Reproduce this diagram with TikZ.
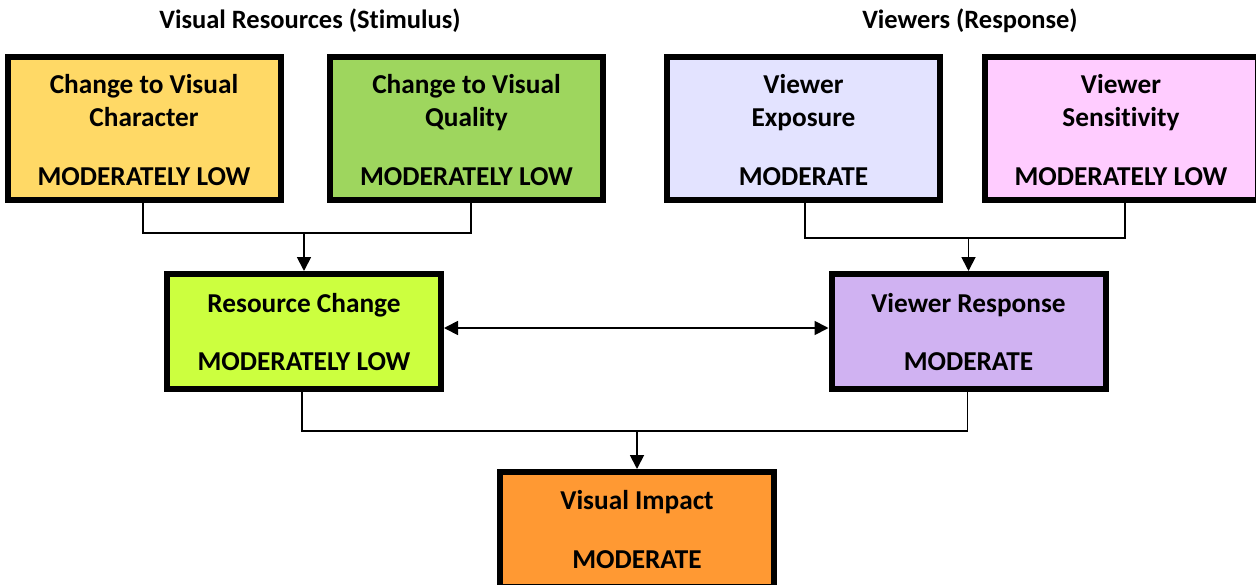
\documentclass[tikz,border=0pt]{standalone}
\usepackage{fontspec}
\setmainfont{Carlito}[Ligatures={NoCommon}]
\usetikzlibrary{arrows.meta}
\definecolor{cYellow}{HTML}{FFD966}
\definecolor{cGreen}{HTML}{9ED65E}
\definecolor{cLav}{HTML}{E3E3FF}
\definecolor{cPink}{HTML}{FFCCFF}
\definecolor{cLime}{HTML}{CCFF3F}
\definecolor{cPurple}{HTML}{D0B2F2}
\definecolor{cOrange}{HTML}{FF9933}
\tikzset{
  box/.style={draw=black, line width=6pt, rectangle, inner sep=0pt},
  bigbox/.style={box, minimum width=273pt, minimum height=143pt},
  midbox/.style={box, minimum width=274pt, minimum height=115pt},
  txt/.style={anchor=base, inner sep=0pt, font=\fontsize{27.3}{32}\selectfont\bfseries},
  head/.style={anchor=base, inner sep=0pt, font=\fontsize{26.5}{31}\selectfont\bfseries},
  conn/.style={line width=1.8pt, draw=black},
  arr/.style={conn, -{Triangle[length=14pt, width=14pt]}},
  arrtwo/.style={conn, {Triangle[length=14pt, width=14pt]}-{Triangle[length=14pt, width=14pt]}}
}
\begin{document}
\begin{tikzpicture}[x=1pt, y=-1pt]
\clip (0,0) rectangle (1256,584);
\fill[white] (0,0) rectangle (1256,584);

% headers
\node[head] (h1) at (310,28) {Visual Resources (Stimulus)};
\node[head] (h2) at (970,28) {Viewers (Response)};

% boxes
\node[bigbox, fill=cYellow] (b1) at (144,128.5) {};
\node[bigbox, fill=cGreen] (b2) at (466.5,128.5) {};
\node[bigbox, fill=cLav] (b3) at (803.5,128.5) {};
\node[bigbox, fill=cPink] (b4) at (1121,128.5) {};
\node[midbox, fill=cLime] (b5) at (304,331.5) {};
\node[midbox, fill=cPurple] (b6) at (968.5,331.5) {};
\node[midbox, fill=cOrange] (b7) at (637,529.5) {};

% texts
\node[txt] (t1a) at (144,93) {Change to Visual};
\node[txt] (t1b) at (144,126) {Character};
\node[txt] (t1c) at (144,185) {MODERATELY LOW};
\node[txt] (t2a) at (466.5,93) {Change to Visual};
\node[txt] (t2b) at (466.5,126) {Quality};
\node[txt] (t2c) at (466.5,185) {MODERATELY LOW};
\node[txt] (t3a) at (803.5,93) {Viewer};
\node[txt] (t3b) at (803.5,126) {Exposure};
\node[txt] (t3c) at (803.5,185) {MODERATE};
\node[txt] (t4a) at (1121,93) {Viewer};
\node[txt] (t4b) at (1121,126) {Sensitivity};
\node[txt] (t4c) at (1121,185) {MODERATELY LOW};
\node[txt] (t5a) at (304,312) {Resource Change};
\node[txt] (t5b) at (304,370) {MODERATELY LOW};
\node[txt] (t6a) at (968.5,312) {Viewer Response};
\node[txt] (t6b) at (968.5,370) {MODERATE};
\node[txt] (t7a) at (637,509) {Visual Impact};
\node[txt] (t7b) at (637,568) {MODERATE};

% junctions
\coordinate (j1) at (304,233);
\coordinate (j2) at (968.5,238);
\coordinate (j3) at (637,431);

% connectors
\draw[conn] ([xshift=-1pt]b1.south) |- (j1) -| ([xshift=4.5pt]b2.south);
\draw[arr] (j1) -- (b5.north);
\draw[conn] ([xshift=1.5pt]b3.south) |- (j2) -| ([xshift=4pt]b4.south);
\draw[arr] (j2) -- (b6.north);
\draw[conn] ([xshift=-2pt]b5.south) |- (j3) -| ([xshift=-1pt]b6.south);
\draw[arr] (j3) -- (b7.north);
\draw[arrtwo] ([yshift=3.5pt]b5.east) -- ([yshift=3.5pt]b6.west);
\end{tikzpicture}
\end{document}
